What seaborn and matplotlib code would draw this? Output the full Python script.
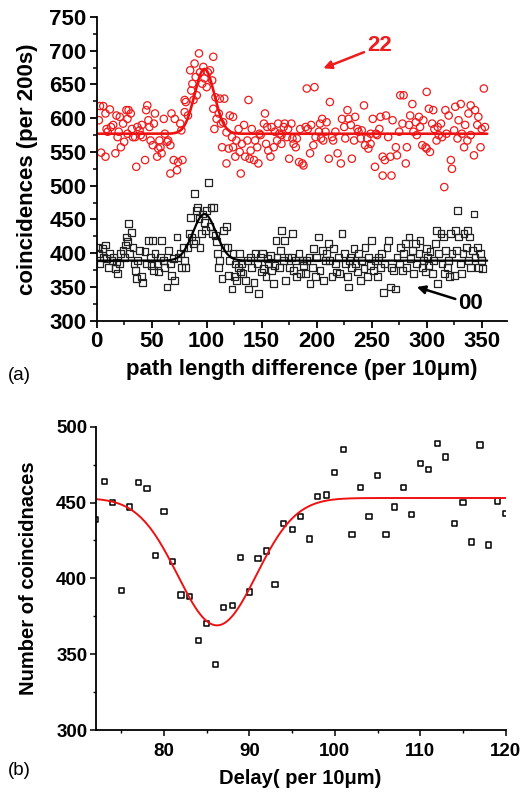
import numpy as np
import pandas as pd
import seaborn as sns
import matplotlib
matplotlib.use('Agg')
import matplotlib.pyplot as plt
from matplotlib.ticker import MultipleLocator

sns.set_style('ticks')
plt.rcParams['font.family'] = ['Liberation Sans', 'DejaVu Sans']
for key in ('text.color', 'axes.labelcolor', 'xtick.color', 'ytick.color', 'axes.edgecolor'):
    plt.rcParams[key] = 'black'

# ---- panel (a): coincidences, "22" (red circles) and "00" (black squares)
red_x = [2, 3, 4, 6, 8, 8, 9, 10,
         12, 13, 15, 17, 18, 19, 20,
         21, 22, 24, 25, 27, 28, 28, 29,
         31, 32, 33, 35, 36, 37, 39, 40,
         41, 42, 44, 45, 46, 47, 48, 49,
         51, 52, 53, 55, 56, 57, 58, 59,
         61, 62, 64, 65, 67, 67, 68, 70,
         71, 73, 74, 76, 77, 78, 80, 80,
         81, 83, 85, 86, 87, 88, 89, 90,
         91, 93, 94, 96, 97, 98, 100,
         101, 103, 105, 106, 106, 107, 108, 109,
         111, 112, 113, 114, 115, 116, 118, 118, 120,
         121, 123, 124, 124, 126, 127, 129, 130,
         131, 132, 134, 135, 137, 138, 139, 140,
         141, 143, 144, 146, 147, 148, 149,
         152, 153, 154, 155, 156, 158, 159,
         161, 162, 164, 165, 166, 168, 168, 170,
         171, 173, 174, 175, 177, 178, 179,
         181, 182, 184, 185, 187, 188, 190,
         191, 192, 194, 195, 197, 198, 199,
         202, 203, 204, 205, 206, 208, 209,
         211, 212, 214, 215, 217, 219,
         222, 223, 225, 226, 228, 229,
         231, 232, 234, 235, 237, 238, 240,
         241, 243, 244, 246, 247, 249, 249,
         251, 253, 254, 255, 257, 258, 260,
         260, 262, 263, 265, 267, 268, 269,
         272, 273, 275, 276, 278, 279,
         281, 282, 284, 285, 287, 288, 290,
         291, 293, 294, 296, 297, 299, 300,
         300, 302, 303, 305, 306, 307, 309,
         310, 311, 313, 314, 316, 317, 318,
         320, 322, 323, 325, 326, 328, 329,
         331, 332, 334, 335, 337, 338, 340,
         340, 343, 344, 346, 347, 349, 350, 352, 353]
red_y = [597, 618, 549, 618, 543, 607, 584, 580,
         613, 587, 590, 548, 604, 572, 580,
         602, 557, 592, 565, 612, 599, 577, 612,
         607, 584, 572, 572, 528, 587, 582, 575,
         590, 572, 538, 612, 619, 597, 587, 567,
         560, 592, 607, 543, 555, 567, 557, 548,
         599, 577, 565, 567, 518, 560, 607, 538,
         599, 523, 535, 592, 582, 538, 627, 609,
         624, 604, 671, 641, 651, 627, 681, 661,
         634, 696, 668, 651, 676, 659, 646,
         668, 671, 656, 691, 614, 584, 631, 599,
         607, 629, 592, 557, 594, 629, 533, 579, 555,
         604, 572, 557, 602, 543, 567, 584, 550,
         518, 562, 590, 543, 567, 627, 540, 552,
         584, 538, 567, 557, 533, 577, 575,
         592, 607, 562, 587, 552, 543, 587,
         557, 580, 567, 592, 577, 562, 575, 587,
         592, 572, 584, 540, 592, 570, 562,
         557, 570, 535, 584, 533, 530, 587,
         644, 584, 548, 590, 560, 646, 572,
         580, 592, 570, 599, 567, 580, 594,
         540, 624, 572, 567, 580, 548,
         533, 599, 587, 570, 612, 599,
         590, 540, 567, 602, 584, 580, 570,
         582, 619, 560, 570, 555, 577, 562,
         599, 528, 577, 575, 584, 602, 543,
         515, 538, 604, 572, 543, 515, 597,
         557, 545, 580, 634, 592, 634,
         533, 557, 590, 604, 621, 580, 594,
         575, 602, 587, 560, 597, 557, 639,
         555, 614, 550, 592, 612, 584, 567,
         587, 575, 592, 572, 498, 612, 577,
         604, 538, 525, 582, 617, 570, 597,
         621, 577, 557, 590, 567, 607, 575,
         619, 545, 612, 590, 602, 557, 584, 644, 587]

black_x = [1, 2, 3, 5, 6, 8, 9,
           11, 12, 14, 15, 17, 18, 19,
           21, 22, 24, 25, 26, 27, 28, 29,
           30, 32, 33, 34, 35, 36, 37, 39,
           41, 42, 44, 45, 47, 49, 50,
           51, 52, 53, 55, 56, 58, 59,
           61, 62, 64, 65, 67, 68, 70,
           71, 73, 74, 76, 77, 79, 80,
           81, 83, 84, 85, 86, 88, 89, 90,
           91, 92, 93, 94, 95, 96, 98, 99,
           100, 102, 103, 104, 105, 106, 108,
           109, 110, 111, 112, 114, 115, 116, 118,
           119, 120, 121, 123, 124, 125, 126, 127,
           129, 130, 131, 132, 133, 135, 137, 138,
           140, 141, 143, 144, 146, 147, 149, 150,
           151, 152, 154, 155, 156, 158, 159,
           161, 162, 163, 164, 166, 167, 168, 170,
           171, 172, 174, 175, 177, 178, 179,
           181, 182, 184, 185, 187, 188, 190,
           191, 193, 194, 196, 197, 199, 200,
           202, 203, 205, 206, 208, 209, 211,
           212, 214, 215, 217, 218, 220, 221,
           223, 225, 226, 228, 229, 230,
           231, 232, 234, 235, 237, 238, 240,
           241, 243, 244, 246, 247, 249,
           250, 252, 253, 255, 256, 258, 259,
           261, 262, 264, 265, 267, 268, 270,
           272, 273, 275, 276, 278, 279,
           281, 282, 284, 285, 287, 288, 290,
           291, 293, 294, 296, 297, 299, 300,
           301, 302, 303, 305, 306, 308, 309,
           310, 311, 313, 314, 315, 316, 317,
           319, 320, 321, 322, 323, 325, 326, 327,
           328, 329, 331, 332, 333, 334, 336,
           337, 338, 339, 340, 342, 343, 344, 346, 347, 349, 350, 351]
black_y = [409, 399, 384, 407, 394, 412, 392,
           379, 399, 389, 394, 377, 387, 370,
           384, 399, 404, 394, 412, 424, 417, 444,
           399, 431, 409, 384, 374, 362, 389, 404,
           365, 357, 402, 384, 419, 394, 382,
           419, 374, 399, 384, 372, 394, 419,
           389, 379, 350, 404, 384, 367, 392,
           360, 424, 394, 399, 379, 409, 389,
           379, 409, 429, 453, 424, 414, 488, 419,
           463, 468, 451, 409, 429, 458, 446, 434,
           463, 505, 439, 468, 429, 468, 426,
           417, 399, 379, 389, 362, 434, 409, 439,
           409, 367, 389, 347, 399, 365, 384, 360,
           379, 399, 372, 384, 370, 360, 389, 347,
           394, 379, 357, 399, 384, 340, 394, 372,
           399, 377, 365, 392, 384, 397, 374,
           355, 382, 419, 394, 379, 404, 434, 389,
           419, 360, 394, 379, 394, 429, 374,
           389, 365, 399, 370, 389, 382, 370,
           389, 394, 355, 379, 407, 365, 394,
           424, 374, 404, 360, 389, 399, 414,
           389, 365, 407, 384, 372, 394, 370,
           429, 399, 384, 365, 350, 389,
           394, 379, 407, 384, 372, 399, 360,
           389, 377, 409, 365, 394, 382,
           419, 374, 389, 365, 394, 379, 399,
           342, 384, 409, 419, 350, 379, 374,
           347, 394, 384, 409, 374, 399,
           414, 379, 424, 392, 404, 370, 414,
           384, 399, 419, 379, 389, 372, 407,
           394, 382, 402, 370, 389, 414, 434,
           355, 399, 429, 384, 424, 370, 404,
           379, 389, 365, 429, 399, 367, 434, 404,
           463, 424, 384, 370, 399, 429, 409,
           434, 389, 424, 379, 404, 458, 394, 409, 379, 399, 389, 377]

# fitted gaussians drawn on panel (a) (parameters)
fit22_base, fit22_amp, fit22_center, fit22_sigma = 577, 96, 98, 9.0
fit00_base, fit00_amp, fit00_center, fit00_sigma = 389, 69, 98, 10.5

# ---- panel (b): dip scan
delay = list(range(72, 121))
counts = [439, 464, 450, 392, 447, 463, 459, 415, 444, 411,
          389, 388, 359, 370, 343, 381, 382, 414, 391, 413,
          418, 396, 436, 432, 441, 426, 454, 455, 470, 485,
          429, 460, 441, 468, 429, 447, 460, 442, 476, 472,
          489, 480, 436, 450, 424, 488, 422, 451, 443]
dip_base, dip_depth, dip_center, dip_sigma = 453, 84, 86.2, 4.6

df22 = pd.DataFrame({'x': red_x, 'y': red_y})
df00 = pd.DataFrame({'x': black_x, 'y': black_y})
dfb = pd.DataFrame({'delay': delay, 'counts': counts})

xa = np.linspace(0, 355, 600)
fit22 = fit22_base + fit22_amp * np.exp(-(xa - fit22_center) ** 2 / (2 * fit22_sigma ** 2))
fit00 = fit00_base + fit00_amp * np.exp(-(xa - fit00_center) ** 2 / (2 * fit00_sigma ** 2))
xb = np.linspace(72, 120, 400)
fitb = dip_base - dip_depth * np.exp(-(xb - dip_center) ** 2 / (2 * dip_sigma ** 2))

fig = plt.figure(figsize=(5.24, 7.93), dpi=100)
ax1 = fig.add_axes([0.1845, 0.5956, 0.783, 0.383])
ax2 = fig.add_axes([0.1826, 0.0794, 0.7824, 0.3825])

# panel (a)
sns.scatterplot(data=df22, x='x', y='y', ax=ax1, marker='o', s=28,
                facecolor='none', edgecolor='#ee1c1c', linewidth=0.9)
sns.scatterplot(data=df00, x='x', y='y', ax=ax1, marker='s', s=24,
                facecolor='none', edgecolor='#222222', linewidth=0.9)
sns.lineplot(x=xa, y=fit22, ax=ax1, color='#ee1111', lw=1.9)
sns.lineplot(x=xa, y=fit00, ax=ax1, color='black', lw=1.6)

ax1.set_xlim(0, 373)
ax1.set_ylim(300, 750)
ax1.xaxis.set_major_locator(MultipleLocator(50))
ax1.xaxis.set_minor_locator(MultipleLocator(25))
ax1.yaxis.set_major_locator(MultipleLocator(50))
ax1.yaxis.set_minor_locator(MultipleLocator(25))
ax1.set_xticks([0, 50, 100, 150, 200, 250, 300, 350])
ax1.tick_params(which='major', direction='out', length=5, width=1.3, labelsize=16, pad=2.5)
ax1.tick_params(which='minor', direction='out', length=3, width=1.1)
ax1.set_xlabel('path length difference (per 10\u03bcm)', fontsize=16, fontweight='bold', labelpad=5)
ax1.set_ylabel('coincidences (per 200s)', fontsize=16, fontweight='bold', labelpad=8)

ax1.annotate('22', xy=(206, 674), xytext=(246, 707), fontsize=16, fontweight='bold',
             color='#ee1c1c', va='center', ha='left',
             arrowprops=dict(arrowstyle='-|>', color='#ee1c1c', lw=1.8,
                             shrinkA=0, shrinkB=0, mutation_scale=12))
ax1.annotate('00', xy=(291, 350), xytext=(329, 325), fontsize=16, fontweight='bold',
             color='black', va='center', ha='left',
             arrowprops=dict(arrowstyle='-|>', color='black', lw=1.8,
                             shrinkA=0, shrinkB=0, mutation_scale=12))

# panel (b)
sns.scatterplot(data=dfb, x='delay', y='counts', ax=ax2, marker='s', s=14,
                facecolor='none', edgecolor='black', linewidth=1.1)
sns.lineplot(x=xb, y=fitb, ax=ax2, color='#ee1111', lw=1.4)

ax2.set_xlim(72, 120)
ax2.set_ylim(300, 500)
ax2.xaxis.set_major_locator(MultipleLocator(10))
ax2.xaxis.set_minor_locator(MultipleLocator(5))
ax2.yaxis.set_major_locator(MultipleLocator(50))
ax2.yaxis.set_minor_locator(MultipleLocator(25))
ax2.tick_params(which='major', direction='out', length=4, width=1.1, labelsize=13.5, pad=2)
ax2.tick_params(axis='x', which='major', pad=5.5)
ax2.tick_params(which='minor', direction='out', length=2.5, width=1.0)
ax2.set_xlabel('Delay( per 10\u03bcm)', fontsize=14.5, fontweight='bold', labelpad=6)
ax2.set_ylabel('Number of coincidnaces', fontsize=14.5, fontweight='bold', labelpad=13)

for ax in (ax1, ax2):
    ax.spines[['top', 'right']].set_visible(False)
    for s in ('left', 'bottom'):
        ax.spines[s].set_linewidth(1.3)
    for lab in ax.get_xticklabels() + ax.get_yticklabels():
        lab.set_fontweight('bold')

fig.text(0.015, 0.527, '(a)', fontsize=13.5, va='center')
fig.text(0.015, 0.029, '(b)', fontsize=13.5, va='center')

fig.savefig('out.png', dpi=100)
